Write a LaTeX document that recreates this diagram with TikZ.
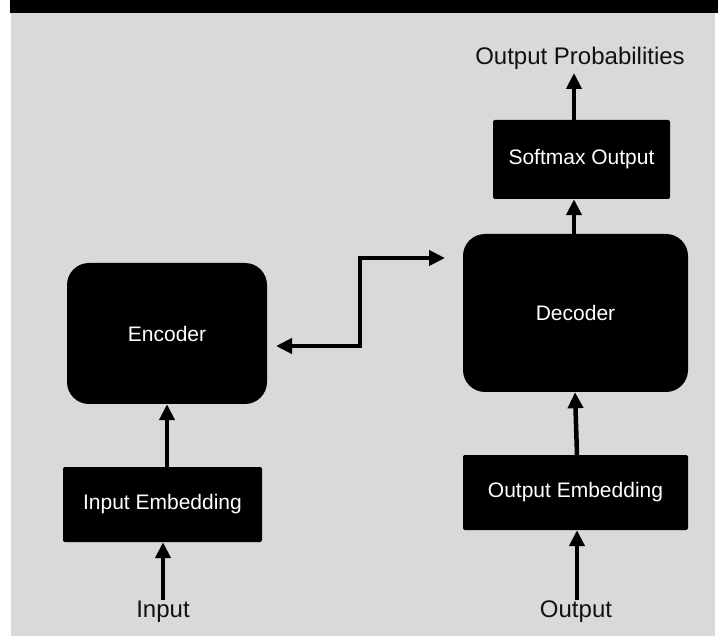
\documentclass[tikz,border=0pt]{standalone}
\usepackage{fontspec}
\setmainfont{Liberation Sans}
\usetikzlibrary{arrows.meta}
\definecolor{panelgrey}{HTML}{D9D9D9}
\definecolor{labelink}{HTML}{111111}
\tikzset{
  blockbox/.style={fill=black, text=white, inner sep=0pt, font=\fontsize{21}{24}\selectfont},
  roundblock/.style={blockbox, rounded corners=22pt},
  flatblock/.style={blockbox, rounded corners=2pt},
  outerlabel/.style={text=labelink, inner sep=0pt, font=\fontsize{24}{28}\selectfont},
  flow/.style={line width=4.5pt, -{Triangle[length=16pt,width=15pt]}},
  bothflow/.style={line width=4.5pt, {Triangle[length=16pt,width=15pt]}-{Triangle[length=16pt,width=15pt]}}
}
\begin{document}
\begin{tikzpicture}[x=1pt, y=-1pt]
  % canvas, grey panel and title strip
  \useasboundingbox (0,0) rectangle (718,636);
  \fill[white] (0,0) rectangle (718,636);
  \fill[panelgrey] (11,13) rectangle (715,636);
  \fill[black] (10,0) rectangle (718,13);

  % blocks
  \node[roundblock, minimum width=200pt, minimum height=141pt] (enc) at (167,333.5) {Encoder};
  \node[flatblock, minimum width=199pt, minimum height=75pt] (inemb) at (162.5,504.5) {Input Embedding};
  \node[roundblock, minimum width=225pt, minimum height=158pt] (dec) at (575.5,313) {Decoder};
  \node[flatblock, minimum width=225pt, minimum height=75pt] (outemb) at (575.5,492.5) {Output Embedding};
  \node[flatblock, minimum width=177pt, minimum height=79pt] (soft) at (581.5,159.5) {Softmax Output};

  % outer labels
  \node[outerlabel] (prob) at (580,58) {Output Probabilities};
  \node[outerlabel] (inlab) at (163,612) {Input};
  \node[outerlabel] (outlab) at (576,612) {Output};

  % free ends of the connectors
  \coordinate (instart) at (163,600);
  \coordinate (outstart) at (577,600);
  \coordinate (probtip) at (574,73);
  \coordinate (enctip) at (276,346);
  \coordinate (dectip) at (445,258);

  % connectors
  \draw[flow] (instart) -- (inemb.south -| instart);
  \draw[flow] (inemb.north -| enc.south) -- (enc.south);
  \draw[flow] (outstart) -- (outemb.south -| outstart);
  \draw[flow] (outemb.north -| outstart) -- (dec.south -| 575,0);
  \draw[flow] (dec.north -| 574,0) -- (soft.south -| 574,0);
  \draw[flow] (soft.north -| probtip) -- (probtip);
  \draw[bothflow] (enctip) -- (360,346) -- (360,258) -- (dectip);
\end{tikzpicture}
\end{document}
